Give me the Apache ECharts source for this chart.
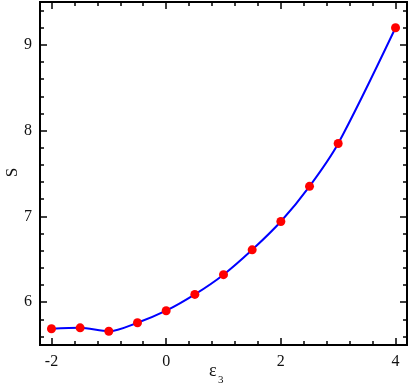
<!DOCTYPE html>
<html>
<head>
<meta charset="utf-8">
<script src="https://cdn.jsdelivr.net/npm/echarts@6/dist/echarts.min.js"></script>
<style>html,body{margin:0;padding:0;background:#fff}#c{width:409px;height:387px}</style>
</head>
<body>
<div id="c"></div>
<script>
const xValues = [-2, -1.5, -1, -0.5, 0, 0.5, 1, 1.5, 2, 2.5, 3, 4];
const sValues = [5.69, 5.70, 5.66, 5.76, 5.90, 6.09, 6.32, 6.61, 6.94, 7.35, 7.85, 9.20];
const xMajorTicks = [-2, 0, 2, 4];
const xMinorTicks = [-1.6, -1.2, -0.8, -0.4, 0.4, 0.8, 1.2, 1.6, 2.4, 2.8, 3.2, 3.6];
const yMajorTicks = [6, 7, 8, 9];
const yMinorTicks = [5.6, 5.8, 6.2, 6.4, 6.6, 6.8, 7.2, 7.4, 7.6, 7.8, 8.2, 8.4, 8.6, 8.8, 9.2, 9.4];
const xTitle = 'ε';
const xTitleSub = '3';
const yTitle = 'S';

const font = "'Liberation Serif', 'Times New Roman', serif";
const chart = echarts.init(document.getElementById('c'), null, {renderer: 'canvas'});

function xAx(pos, ticks, len, labels) {
  return {
    type: 'value', position: pos, min: -2.2, max: 4.2,
    axisLine: {show: true, onZero: false, lineStyle: {color: '#000', width: 2}},
    axisTick: {show: true, inside: true, length: len, customValues: ticks, lineStyle: {color: '#000', width: 1.5}},
    axisLabel: labels ? {show: true, customValues: xMajorTicks, margin: 9, color: '#111', fontFamily: font, fontSize: 16} : {show: false},
    splitLine: {show: false}
  };
}
function yAx(pos, ticks, len, labels) {
  return {
    type: 'value', position: pos, min: 5.5, max: 9.5,
    axisLine: {show: true, onZero: false, lineStyle: {color: '#000', width: 2}},
    axisTick: {show: true, inside: true, length: len, customValues: ticks, lineStyle: {color: '#000', width: 1.5}},
    axisLabel: labels ? {show: true, customValues: yMajorTicks, margin: 8, color: '#111', fontFamily: font, fontSize: 16} : {show: false},
    splitLine: {show: false}
  };
}

chart.setOption({
  animation: false,
  grid: {left: 40, right: 2, top: 2, bottom: 42, containLabel: false, outerBoundsMode: 'none'},
  xAxis: [
    xAx('bottom', xMajorTicks, 7, true),
    xAx('bottom', xMinorTicks, 4, false),
    xAx('top', xMajorTicks, 7, false),
    xAx('top', xMinorTicks, 4, false)
  ],
  yAxis: [
    yAx('left', yMajorTicks, 7, true),
    yAx('left', yMinorTicks, 4, false),
    yAx('right', yMajorTicks, 7, false),
    yAx('right', yMinorTicks, 4, false)
  ],
  graphic: [
    {type: 'text', x: 209, y: 371, style: {text: xTitle, font: '18px ' + font, fill: '#111', align: 'left', verticalAlign: 'middle'}},
    {type: 'text', x: 218, y: 380, style: {text: xTitleSub, font: '11px ' + font, fill: '#111', align: 'left', verticalAlign: 'middle'}},
    {type: 'text', x: 13, y: 172.5, rotation: Math.PI / 2, style: {text: yTitle, font: '17px ' + font, fill: '#111', align: 'center', verticalAlign: 'middle'}}
  ],
  series: [{
    type: 'line',
    xAxisIndex: 0, yAxisIndex: 0,
    data: xValues.map((x, i) => [x, sValues[i]]),
    smooth: 0.3,
    lineStyle: {color: '#0000ff', width: 2},
    itemStyle: {color: '#ff0000'},
    symbol: 'circle',
    symbolSize: 9,
    showSymbol: true
  }]
});
</script>
</body>
</html>
